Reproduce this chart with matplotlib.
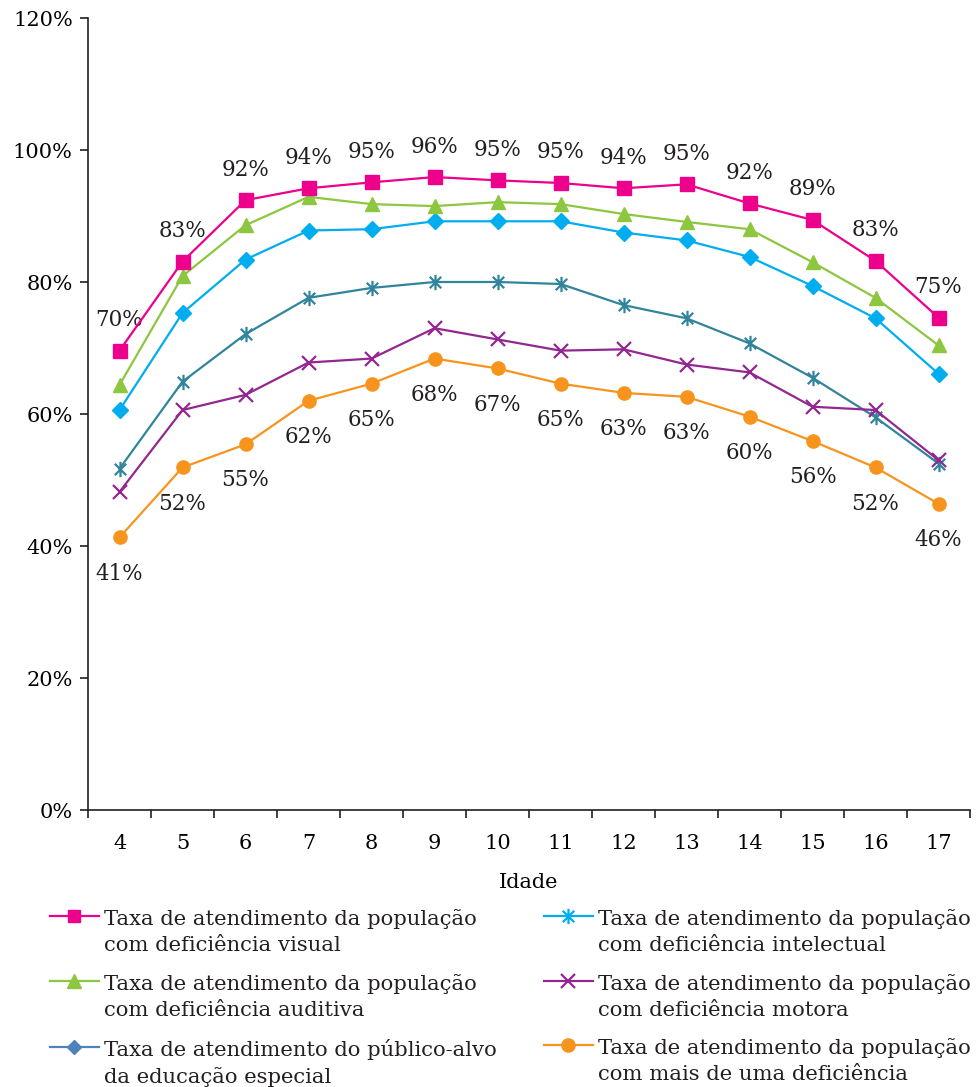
import matplotlib
matplotlib.use("Agg")
import matplotlib.pyplot as plt
from matplotlib.lines import Line2D
from matplotlib.path import Path
from matplotlib.legend_handler import HandlerLine2D
import numpy as np

ages = [4, 5, 6, 7, 8, 9, 10, 11, 12, 13, 14, 15, 16, 17]

visual = [69.6, 83.1, 92.4, 94.2, 95.1, 95.9, 95.4, 95.0, 94.2, 94.8, 91.9, 89.4, 83.2, 74.6]
auditiva = [64.4, 80.9, 88.6, 92.9, 91.8, 91.5, 92.1, 91.8, 90.3, 89.1, 88.0, 83.0, 77.6, 70.4]
publico_alvo = [60.6, 75.3, 83.4, 87.8, 88.0, 89.2, 89.2, 89.2, 87.5, 86.3, 83.8, 79.4, 74.5, 66.1]
intelectual = [51.7, 64.9, 72.1, 77.6, 79.1, 80.0, 80.0, 79.7, 76.5, 74.5, 70.7, 65.5, 59.5, 52.5]
motora = [48.2, 60.6, 62.9, 67.8, 68.4, 73.0, 71.3, 69.6, 69.8, 67.5, 66.3, 61.1, 60.6, 53.0]
mais_de_uma = [41.3, 51.9, 55.4, 62.0, 64.6, 68.4, 66.9, 64.6, 63.2, 62.6, 59.6, 55.9, 51.9, 46.4]

y_ticks = [0, 20, 40, 60, 80, 100, 120]

lab_visual = "Taxa de atendimento da população\ncom deficiência visual"
lab_auditiva = "Taxa de atendimento da população\ncom deficiência auditiva"
lab_publico = "Taxa de atendimento do público-alvo\nda educação especial"
lab_intelectual = "Taxa de atendimento da população\ncom deficiência intelectual"
lab_motora = "Taxa de atendimento da população\ncom deficiência motora"
lab_mais = "Taxa de atendimento da população\ncom mais de uma deficiência"

c_pink = "#EC008C"
c_green = "#8DC63F"
c_cyan = "#00AEEF"
c_teal = "#31849B"
c_purple = "#92278F"
c_orange = "#F7941D"
c_steel = "#4F81BD"

FONT = "DejaVu Serif"
plt.rcParams["font.family"] = FONT
plt.rcParams["text.color"] = "#231F20"

star = Path([(0, -1), (0, 1), (-0.75, -0.75), (0.75, 0.75), (-0.75, 0.75), (0.75, -0.75)],
            [Path.MOVETO, Path.LINETO, Path.MOVETO, Path.LINETO, Path.MOVETO, Path.LINETO])

fig = plt.figure(figsize=(9.8, 10.87), dpi=100)
ax = fig.add_axes([88 / 980, 1 - 810 / 1087, (970 - 88) / 980, (810 - 18) / 1087])

lw = 1.6
ax.plot(ages, visual, color=c_pink, lw=lw, marker="s", ms=9.5, zorder=6)
ax.plot(ages, auditiva, color=c_green, lw=lw, marker="^", ms=10, zorder=5)
ax.plot(ages, publico_alvo, color=c_cyan, lw=lw, marker="D", ms=8, zorder=4)
ax.plot(ages, intelectual, color=c_teal, lw=lw, marker=star, ms=11, mew=1.6, zorder=3)
ax.plot(ages, motora, color=c_purple, lw=lw, marker="x", ms=10, mew=1.6, zorder=3)
ax.plot(ages, mais_de_uma, color=c_orange, lw=lw, marker="o", ms=9.5, zorder=4)

for x, v in zip(ages, visual):
    ax.annotate(f"{round(v):d}%", (x, v), xytext=(0, 22), textcoords="offset points",
                ha="center", va="center", fontsize=15.5)
for x, v in zip(ages, mais_de_uma):
    ax.annotate(f"{round(v):d}%", (x, v), xytext=(0, -26), textcoords="offset points",
                ha="center", va="center", fontsize=15.5)

ax.set_xlim(3.5, 17.5)
ax.set_ylim(0, 120)
ax.set_yticks(y_ticks)
ax.set_yticklabels([f"{t}%" for t in y_ticks], fontsize=15)
ax.set_xticks(ages)
ax.set_xticklabels([str(a) for a in ages], fontsize=15)
ax.set_xticks(np.arange(3.5, 18.0, 1.0), minor=True)
ax.tick_params(axis="x", which="major", length=0, pad=17)
ax.tick_params(axis="x", which="minor", length=6, width=1.2, direction="out", color="#231F20")
ax.tick_params(axis="y", length=6, width=1.2, direction="out", pad=5, color="#231F20")
for s in ["top", "right"]:
    ax.spines[s].set_visible(False)
for s in ["left", "bottom"]:
    ax.spines[s].set_linewidth(1.2)
    ax.spines[s].set_color("#231F20")
ax.set_xlabel("Idade", fontsize=15, labelpad=15)

LEG_FS = 15.2
LS = 1.45


class TopHandler(HandlerLine2D):
    def create_artists(self, legend, orig_handle, xdescent, ydescent, width, height, fontsize, trans):
        arts = super().create_artists(legend, orig_handle, xdescent, ydescent, width, height, fontsize, trans)
        shift = 0.5 * fontsize * LS * 1.05
        for a in arts:
            a.set_ydata(np.asarray(a.get_ydata()) + shift)
        return arts


def proxy(color, marker, ms, mew=1.0):
    return Line2D([], [], color=color, lw=lw, marker=marker, ms=ms, mew=mew)


col1 = [(proxy(c_pink, "s", 9), lab_visual),
        (proxy(c_green, "^", 10), lab_auditiva),
        (proxy(c_steel, "D", 7.5), lab_publico)]
col2 = [(proxy(c_cyan, star, 11, 1.6), lab_intelectual),
        (proxy(c_purple, "x", 10, 1.6), lab_motora),
        (proxy(c_orange, "o", 9.5), lab_mais)]

for xpos, col in [(50 / 980, col1), (544 / 980, col2)]:
    leg = fig.legend([h for h, _ in col], [l for _, l in col],
                     loc="upper left", bbox_to_anchor=(xpos, 1 - 909 / 1087),
                     frameon=False, fontsize=LEG_FS, handlelength=2.3, handletextpad=0.27,
                     labelspacing=0.9, borderpad=0, borderaxespad=0,
                     handler_map={Line2D: TopHandler()})
    for t in leg.get_texts():
        t.set_linespacing(LS)

fig.savefig("out.png", dpi=100)
